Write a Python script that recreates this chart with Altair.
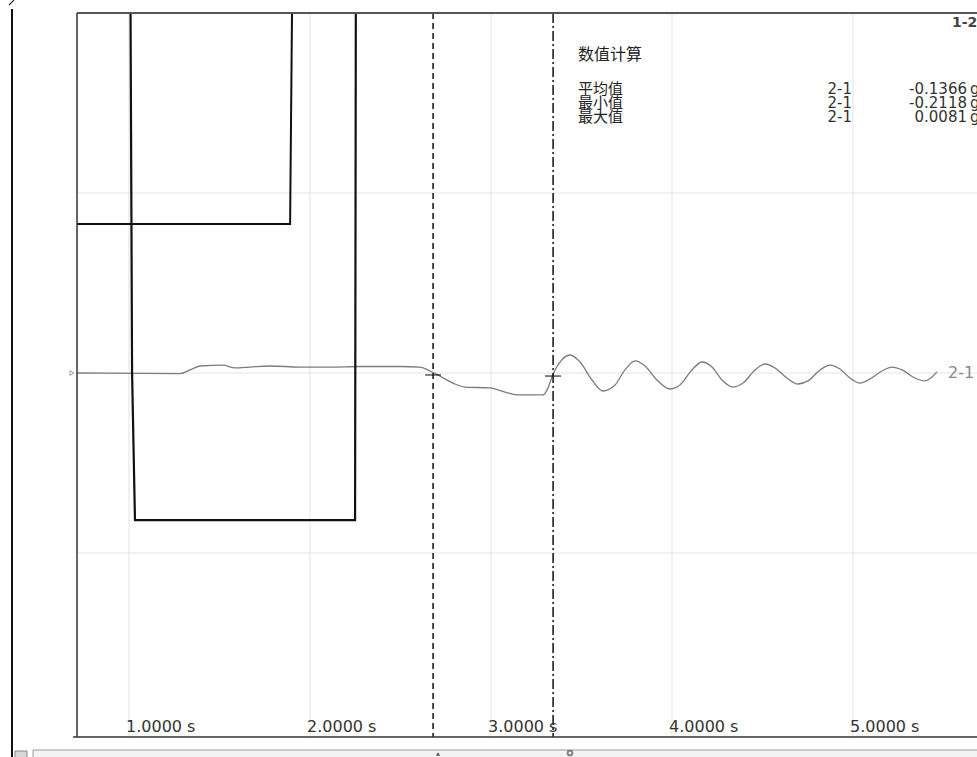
import altair as alt
import pandas as pd

# ---- data ----
tick_t = [1, 2, 3, 4, 5]
tick_labels = ["1.0000 s", "2.0000 s", "3.0000 s", "4.0000 s", "5.0000 s"]
grid_y = [-1, 0, 1]

# channel 2-1 (grey trace)
sig_t = [0.713, 1.282, 1.337, 1.392, 1.519, 1.586, 1.669, 1.779, 1.945, 2.110,
         2.276, 2.497, 2.608, 2.663, 2.718, 2.801, 2.856, 2.994, 3.077, 3.144,
         3.287, 3.315, 3.343, 3.381, 3.436, 3.492, 3.558, 3.619, 3.685, 3.740,
         3.796, 3.851, 3.917, 3.989, 4.044, 4.110, 4.166, 4.221, 4.276, 4.337,
         4.392, 4.459, 4.514, 4.569, 4.635, 4.696, 4.751, 4.818, 4.873, 4.928,
         4.983, 5.039, 5.094, 5.160, 5.215, 5.271, 5.331, 5.398, 5.436, 5.464]
sig_v = [0.000, -0.003, 0.017, 0.039, 0.044, 0.028, 0.033, 0.039, 0.033, 0.033,
         0.036, 0.036, 0.033, 0.011, -0.017, -0.061, -0.078, -0.083, -0.106, -0.122,
         -0.122, -0.083, -0.006, 0.061, 0.100, 0.061, -0.039, -0.100, -0.067, 0.017,
         0.067, 0.039, -0.039, -0.089, -0.067, 0.017, 0.061, 0.033, -0.039, -0.078,
         -0.056, 0.017, 0.050, 0.028, -0.028, -0.061, -0.044, 0.017, 0.044, 0.022,
         -0.028, -0.056, -0.033, 0.011, 0.033, 0.017, -0.022, -0.044, -0.022, 0.006]

# black step traces
waveA_t = [0.713, 1.006, 1.017, 1.033, 2.249, 2.254, 5.685]
waveA_v = [2.6, 2.6, 0.0, -0.817, -0.817, 2.6, 2.6]
waveB_t = [0.713, 1.890, 1.906, 5.685]
waveB_v = [0.828, 0.828, 2.6, 2.6]

# cursors
cursor_t = [2.680, 3.343]
cursor_cross_v = [-0.011, -0.017]

# statistics box
stat_title = "数值计算"
stat_names = ["平均值", "最小值", "最大值"]
stat_channel = ["2-1", "2-1", "2-1"]
stat_values = ["-0.1366", "-0.2118", "0.0081"]
stat_unit = "g"

W, H = 900, 724
xs = alt.Scale(domain=[0.7127, 5.685], nice=False, zero=False)
ys = alt.Scale(domain=[-2.0222, 2.0], nice=False, zero=False)
NUM_FONT = "DejaVu Sans"
CJK_FONT = "Noto Sans CJK SC"

ticks_df = pd.DataFrame({"t": tick_t, "label": tick_labels})
gy_df = pd.DataFrame({"v": grid_y})
sig_df = pd.DataFrame({"t": sig_t, "v": sig_v})
wa_df = pd.DataFrame({"t": waveA_t, "v": waveA_v})
wb_df = pd.DataFrame({"t": waveB_t, "v": waveB_v})
cur_df = pd.DataFrame({"t": cursor_t, "v": cursor_cross_v})

X = lambda: alt.X("t:Q", scale=xs, axis=None)
Y = lambda: alt.Y("v:Q", scale=ys, axis=None)

grid_x = alt.Chart(ticks_df).mark_rule(color="#e3e3e3", strokeWidth=1).encode(x=X())
grid_h = alt.Chart(gy_df).mark_rule(color="#e3e3e3", strokeWidth=1).encode(y=Y())

sig = alt.Chart(sig_df).mark_line(color="#7c7c7c", strokeWidth=1.3,
                                  interpolate="monotone", clip=True).encode(x=X(), y=Y())
wa = alt.Chart(wa_df).mark_line(color="#111111", strokeWidth=2.2, clip=True).encode(
    x=X(), y=Y())
wb = alt.Chart(wb_df).mark_line(color="#111111", strokeWidth=2.0, clip=True).encode(
    x=X(), y=Y())

cur1 = alt.Chart(cur_df.iloc[[0]]).mark_rule(color="#111111", strokeWidth=1.5,
                                              strokeDash=[6, 4]).encode(x=X())
cur2 = alt.Chart(cur_df.iloc[[1]]).mark_rule(color="#111111", strokeWidth=1.5,
                                              strokeDash=[10, 3, 2, 3]).encode(x=X())
cross = alt.Chart(cur_df).mark_tick(orient="horizontal", size=16, thickness=1.5,
                                    color="#111111").encode(x=X(), y=Y())

tick_text = alt.Chart(ticks_df).mark_text(align="left", baseline="alphabetic", dx=-3,
                                          font=NUM_FONT, fontSize=16,
                                          color="#333333").encode(
    x=X(), y=alt.value(719), text="label:N")

# frame
frame_col = "#333333"
top_b = alt.Chart().mark_rule(color="#555555", strokeWidth=2).encode(
    x=alt.value(0), x2=alt.value(W), y=alt.value(0))
left_b = alt.Chart().mark_rule(color=frame_col, strokeWidth=1.5).encode(
    x=alt.value(0), y=alt.value(0), y2=alt.value(H))
bot_b = alt.Chart().mark_rule(color=frame_col, strokeWidth=1.5).encode(
    x=alt.value(-4), x2=alt.value(W), y=alt.value(H))
outer_l = alt.Chart().mark_rule(color="#111111", strokeWidth=2).encode(
    x=alt.value(-65), y=alt.value(-4), y2=alt.value(H + 20))
slash = alt.Chart().mark_rule(color="#333333", strokeWidth=1.2).encode(
    x=alt.value(-68), x2=alt.value(-63), y=alt.value(-8), y2=alt.value(-13))
strip = alt.Chart().mark_rect(fill="#f3f3f3", stroke="#9a9a9a", strokeWidth=1).encode(
    x=alt.value(-44), x2=alt.value(W + 2), y=alt.value(737), y2=alt.value(H + 24))
strip_icon = alt.Chart().mark_rect(fill="#d8d8d8", stroke="#888888", strokeWidth=1).encode(
    x=alt.value(-62), x2=alt.value(-50), y=alt.value(738), y2=alt.value(H + 24))
strip_m1 = alt.Chart().mark_point(shape="triangle-up", filled=True, color="#111111",
                                  size=18).encode(x=alt.value(361), y=alt.value(741))
strip_m2 = alt.Chart().mark_point(shape="circle", filled=False, color="#555555",
                                  size=22).encode(x=alt.value(493), y=alt.value(740))
zero_mark = alt.Chart().mark_point(shape="triangle-right", filled=False, color="#777777",
                                   size=22, strokeWidth=1).encode(
    x=alt.value(-5), y=alt.value(360))

# annotations
txt = []
txt.append(alt.Chart().mark_text(align="left", baseline="middle", font=CJK_FONT,
                                 fontSize=16, color="#222222", text=stat_title).encode(
    x=alt.value(501), y=alt.value(42)))
row_y = [76, 90, 104]
for name, ch, val, yy in zip(stat_names, stat_channel, stat_values, row_y):
    txt.append(alt.Chart().mark_text(align="left", baseline="middle", font=CJK_FONT,
                                     fontSize=15, color="#222222", text=name).encode(
        x=alt.value(501), y=alt.value(yy)))
    txt.append(alt.Chart().mark_text(align="right", baseline="middle", font=NUM_FONT,
                                     fontSize=15, color="#333333", text=ch).encode(
        x=alt.value(775), y=alt.value(yy)))
    txt.append(alt.Chart().mark_text(align="right", baseline="middle", font=NUM_FONT,
                                     fontSize=15, color="#333333", text=val).encode(
        x=alt.value(890), y=alt.value(yy)))
    txt.append(alt.Chart().mark_text(align="left", baseline="middle", font=NUM_FONT,
                                     fontSize=15, color="#333333", text=stat_unit).encode(
        x=alt.value(893), y=alt.value(yy)))

lbl_21 = alt.Chart().mark_text(align="left", baseline="middle", font=NUM_FONT,
                               fontSize=16, color="#8a8a8a", text="2-1").encode(
    x=alt.value(871), y=alt.value(360))
lbl_12 = alt.Chart().mark_text(align="left", baseline="middle", font=NUM_FONT,
                               fontSize=14, fontWeight="bold", color="#444444",
                               text="1-2").encode(x=alt.value(875), y=alt.value(10))

chart = alt.layer(
    grid_x, grid_h, sig, wa, wb, cur1, cur2, cross, tick_text,
    top_b, left_b, bot_b, outer_l, slash, strip, strip_icon, strip_m1, strip_m2,
    zero_mark, lbl_21, lbl_12, *txt
).properties(
    width=W, height=H,
    padding={"left": 77, "top": 13, "right": 0, "bottom": 20},
    autosize=alt.AutoSizeParams(type="none"),
    background="white",
).configure_view(stroke=None)

chart.save("out.html", embed_options={"renderer": "svg", "actions": False})
